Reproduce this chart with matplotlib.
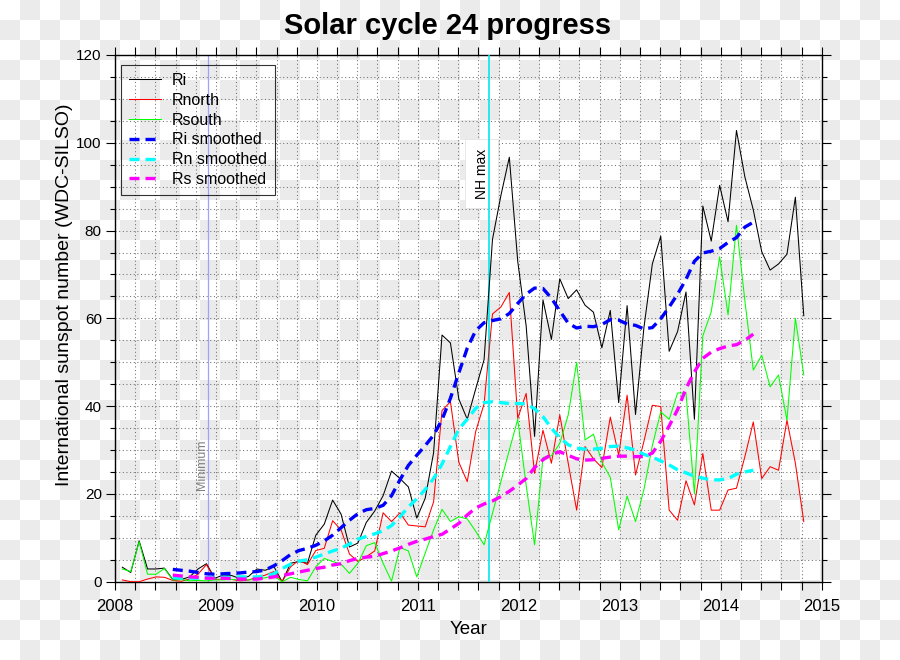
import numpy as np
import matplotlib
matplotlib.use("Agg")
import matplotlib.pyplot as plt
from matplotlib import font_manager as fm
from matplotlib.ticker import MultipleLocator, FormatStrFormatter

# ---------------- data (monthly, starting Jan 2008) ----------------
first_year = 2008
ri = [3.3, 2.1, 9.3, 2.9, 2.9, 3.1, 0.5, 0.5, 1.1, 2.9, 4.1, 0.8,
      1.5, 1.4, 0.7, 1.2, 2.9, 2.6, 3.5, 0.0, 4.2, 4.6, 4.2, 10.6,
      13.1, 18.6, 15.4, 7.9, 8.8, 13.5, 16.1, 19.6, 25.2, 23.5, 21.6, 14.5,
      19.0, 29.4, 56.2, 54.4, 41.6, 37.0, 43.9, 50.6, 78.0, 88.0, 96.7, 73.0,
      58.3, 33.1, 64.2, 55.2, 69.0, 64.5, 66.5, 63.0, 61.4, 53.3, 61.8, 40.8,
      62.9, 38.1, 57.9, 72.4, 78.7, 52.5, 57.0, 66.0, 37.0, 85.6, 77.6, 90.3,
      82.0, 102.8, 92.2, 84.7, 75.2, 71.0, 72.4, 74.6, 87.6, 60.6]
rnorth = [0.4, 0.0, 0.0, 0.6, 1.1, 1.0, 0.3, 0.1, 0.6, 1.7, 3.9, 0.5,
          0.6, 0.5, 0.2, 0.4, 1.0, 1.5, 2.3, 0.0, 3.4, 4.9, 3.9, 7.1,
          7.6, 13.9, 11.8, 6.3, 4.6, 5.7, 7.0, 15.7, 13.7, 15.7, 12.9, 12.7,
          12.5, 18.2, 39.0, 41.0, 27.2, 22.8, 34.2, 40.5, 61.0, 62.6, 65.9, 37.2,
          42.9, 24.7, 34.5, 27.0, 38.0, 27.0, 16.3, 30.8, 28.0, 26.0, 37.5, 28.8,
          42.5, 24.3, 32.0, 40.2, 39.9, 16.3, 14.0, 23.0, 17.5, 29.2, 16.3, 16.3,
          20.9, 21.3, 28.5, 36.4, 23.5, 26.2, 25.4, 36.8, 27.0, 13.7]
rsouth = [2.9, 2.3, 9.1, 1.7, 1.7, 3.0, 0.4, 0.5, 0.2, 0.3, 0.2, 0.4,
          0.4, 0.5, 0.5, 0.4, 0.6, 0.9, 1.3, 0.0, 1.0, 0.5, 0.2, 3.4,
          5.3, 4.6, 4.0, 1.9, 4.2, 8.2, 8.9, 4.2, 0.1, 7.8, 7.0, 1.1,
          6.5, 11.8, 16.5, 13.7, 14.8, 14.3, 11.5, 8.4, 15.6, 22.8, 30.0, 37.0,
          22.0, 8.4, 28.3, 28.7, 31.5, 38.0, 50.0, 32.3, 33.6, 27.2, 23.8, 11.8,
          19.5, 13.7, 21.0, 31.0, 38.7, 37.0, 43.0, 43.0, 20.0, 56.0, 61.5, 74.0,
          60.8, 81.2, 64.0, 48.2, 51.6, 44.4, 47.1, 36.8, 60.0, 47.1]

# 13-month smoothed series, starting Jul 2008 (month index 6)
smooth_start = 6
ri_smoothed = [2.8, 2.6, 2.4, 2.1, 1.8, 1.7, 1.8, 1.9, 2.0, 2.2, 2.3, 2.7,
               3.6, 4.8, 6.2, 7.1, 7.6, 8.3, 9.3, 10.6, 12.3, 14.0, 15.5, 16.4,
               16.7, 17.4, 19.6, 23.2, 26.5, 28.8, 31.0, 33.4, 36.9, 41.8, 47.6, 53.2,
               57.2, 59.0, 59.5, 59.9, 61.1, 63.4, 65.5, 66.9, 66.8, 64.6, 61.7, 58.9,
               57.8, 58.2, 58.1, 58.6, 59.7, 59.6, 58.7, 58.4, 57.6, 57.9, 59.9, 62.6,
               65.5, 68.9, 73.0, 74.9, 75.3, 75.9, 77.3, 78.4, 80.8, 81.9]
rn_smoothed = [0.9, 0.8, 0.8, 0.8, 0.9, 1.0, 1.0, 1.0, 1.1, 1.1, 1.1, 1.3,
               1.8, 3.0, 4.0, 4.7, 5.0, 5.6, 6.3, 7.0, 7.6, 8.6, 9.7, 10.3,
               10.9, 11.6, 12.8, 14.8, 17.0, 18.9, 21.0, 23.5, 26.8, 30.8, 34.8, 37.0,
               39.5, 40.8, 41.0, 40.8, 40.6, 40.6, 40.5, 39.4, 37.6, 35.0, 32.8, 31.2,
               30.4, 30.2, 30.2, 30.4, 30.8, 30.9, 30.5, 30.0, 29.0, 28.4, 27.5, 26.6,
               25.5, 24.8, 24.0, 23.6, 23.2, 23.2, 23.5, 24.5, 25.0, 25.4]
rs_smoothed = [1.5, 1.3, 1.1, 1.0, 0.8, 0.8, 0.8, 0.7, 0.6, 0.6, 0.6, 0.8,
               1.1, 1.4, 1.8, 2.2, 2.6, 3.0, 3.3, 3.8, 4.1, 4.8, 5.3, 5.6,
               5.8, 6.4, 7.0, 7.7, 8.5, 9.2, 9.7, 10.3, 10.8, 12.0, 13.3, 15.2,
               16.8, 17.7, 18.4, 19.4, 20.6, 22.0, 23.5, 26.0, 27.8, 29.0, 29.6, 28.8,
               28.0, 27.7, 27.8, 28.1, 28.4, 28.6, 28.6, 28.5, 28.5, 29.3, 32.0, 35.5,
               39.2, 44.0, 47.8, 50.9, 52.3, 53.1, 53.7, 54.0, 55.0, 56.4]

minimum_date = 2008.92
nh_max_date = 2011.70

# ---------------- fonts ----------------
fams = {f.name for f in fm.fontManager.ttflist}
base = 'Liberation Sans' if 'Liberation Sans' in fams else 'DejaVu Sans'
title_font = 'Liberation Sans Narrow' if 'Liberation Sans Narrow' in fams else base
plt.rcParams['font.family'] = [base, 'DejaVu Sans']

# ---------------- figure ----------------
W, H = 900, 660
fig = plt.figure(figsize=(W / 100, H / 100), dpi=100)

# transparency checkerboard background
yy, xx = np.mgrid[0:H, 0:W]
chk = ((xx // 20 + yy // 20) % 2) == 1
img = np.ones((H, W, 3))
img[chk] = 235 / 255.0
fig.figimage(img, xo=0, yo=0, origin='upper', zorder=-10)
fig.patch.set_alpha(0)

ax = fig.add_axes([115 / W, 1 - 581.7 / H, 706.7 / W, 526.7 / H])
ax.set_facecolor('none')

n = len(ri)
x = first_year + (np.arange(n) + 0.87) / 12.0
xs = x[smooth_start:smooth_start + len(ri_smoothed)]

ax.plot(x, ri, color='black', lw=0.75, label='Ri', zorder=3)
ax.plot(x, rnorth, color='red', lw=0.75, label='Rnorth', zorder=3)
ax.plot(x, rsouth, color='#00ff00', lw=0.75, label='Rsouth', zorder=3)
ax.plot(xs, ri_smoothed, color='#0000ff', lw=2.4, dashes=(3.0, 1.8),
        label='Ri smoothed', zorder=4)
ax.plot(xs, rn_smoothed, color='#00ffff', lw=2.4, dashes=(3.0, 1.8),
        label='Rn smoothed', zorder=4)
ax.plot(xs, rs_smoothed, color='#ff00ff', lw=2.4, dashes=(3.0, 1.8),
        label='Rs smoothed', zorder=4)

ax.axvline(minimum_date, color='#a0a0ff', lw=0.9, zorder=2)
ax.axvline(nh_max_date, color='#00e8f0', lw=1.2, zorder=2.6)
ax.text(minimum_date, 20.9, 'Minimum', rotation=90, ha='right', va='bottom',
        color='#808080', fontsize=9, zorder=2)
ax.text(nh_max_date, 87.3, 'NH max', rotation=90, ha='right', va='bottom',
        color='black', fontsize=10, zorder=2.5,
        bbox=dict(boxstyle='square,pad=0.7', fc='white', ec='#e4e4e4', lw=0.6))

ax.set_xlim(2008, 2015)
ax.set_ylim(0, 120)
ax.xaxis.set_major_locator(MultipleLocator(1))
ax.xaxis.set_minor_locator(MultipleLocator(0.2))
ax.xaxis.set_major_formatter(FormatStrFormatter('%d'))
ax.yaxis.set_major_locator(MultipleLocator(20))
ax.yaxis.set_minor_locator(MultipleLocator(5))

ax.grid(which='both', color='#707070', linestyle=(0, (1, 2.5)), linewidth=0.75, zorder=1)
ax.set_axisbelow(True)

ax.tick_params(axis='x', which='both', direction='out', top=True, bottom=True,
               length=5.5, width=0.8, labelsize=12, pad=7)
ax.tick_params(axis='y', which='major', direction='out', left=True, right=True,
               length=6.5, width=0.8, labelsize=11, pad=3)
ax.tick_params(axis='y', which='minor', direction='out', left=True, right=True,
               length=3.6, width=0.8)
for sp in ax.spines.values():
    sp.set_linewidth(1.0)

ax.set_xlabel('Year', fontsize=13.5)
ax.xaxis.set_label_coords(0.5, (581.7 - 621) / 526.7)
ax.set_ylabel('International sunspot number (WDC-SILSO)', fontsize=14)
ax.yaxis.set_label_coords((73 - 115) / 706.7, (581.7 - 295) / 526.7)

leg = ax.legend(loc='upper left', bbox_to_anchor=((121 - 115) / 706.7, (581.7 - 65) / 526.7),
                borderaxespad=0, frameon=True, fancybox=False, edgecolor='black',
                facecolor='none', fontsize=11.5, handlelength=2.0, handletextpad=0.7,
                labelspacing=0.3, borderpad=0.5)
leg.get_frame().set_linewidth(0.8)

fig.text(0.497, 1 - 26 / H, 'Solar cycle 24 progress', ha='center', va='center',
         fontsize=21, fontweight='bold', family=[title_font, 'DejaVu Sans'])

fig.savefig('out.png', dpi=100)
